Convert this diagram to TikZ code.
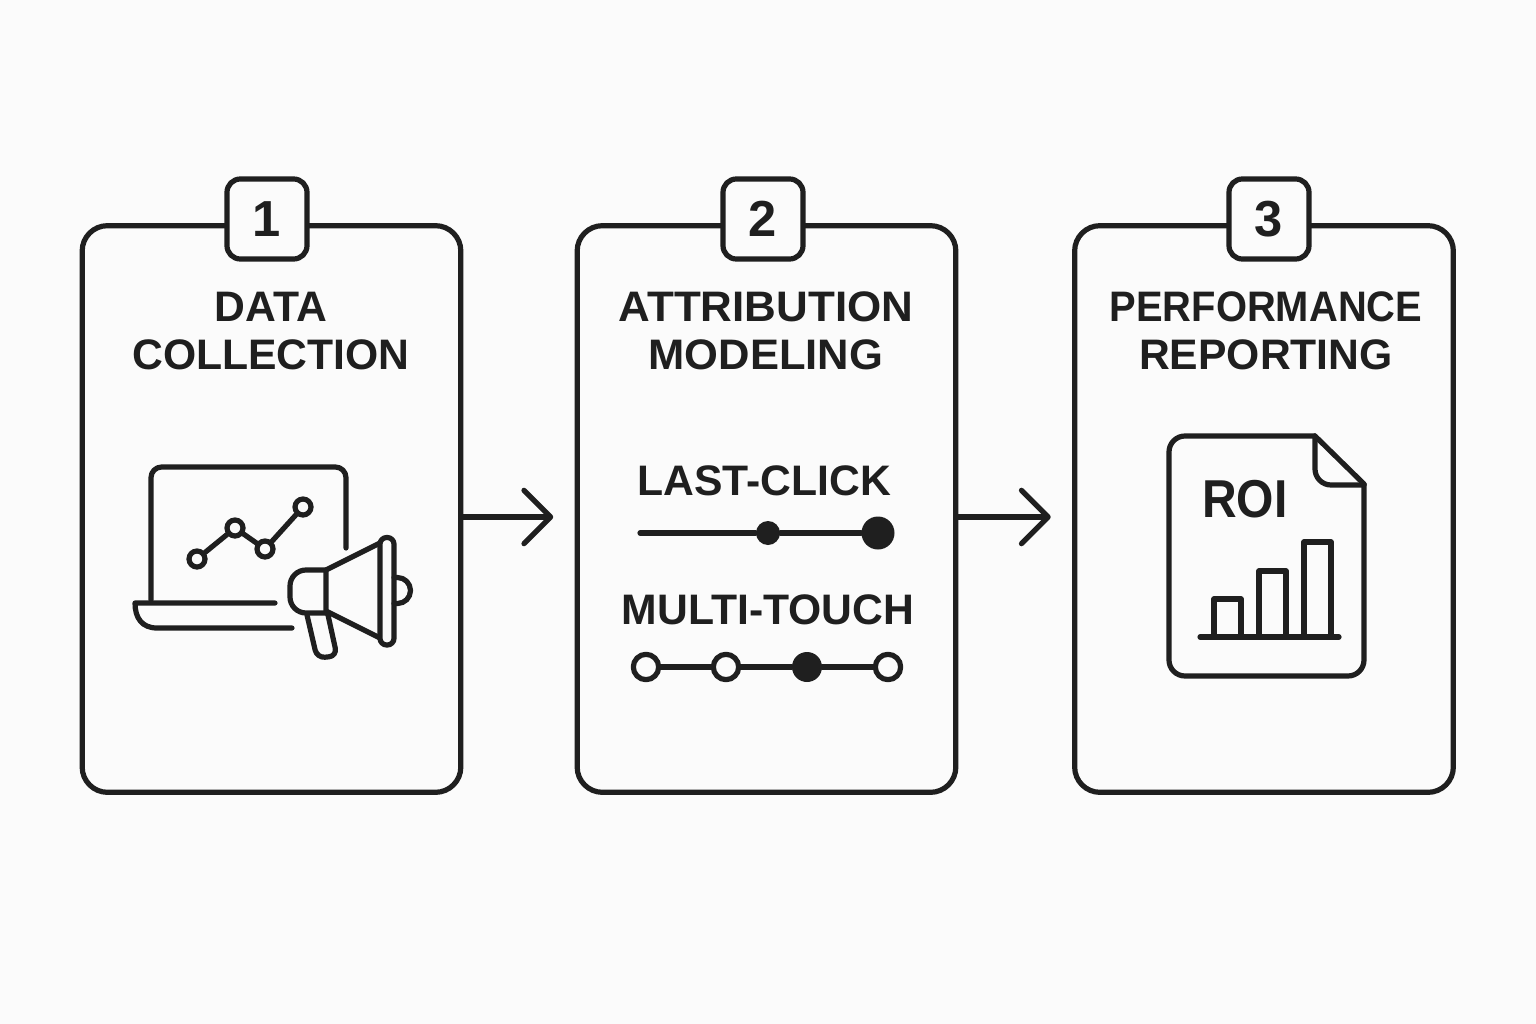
\documentclass[tikz,border=0pt]{standalone}
\usepackage{fontspec}
\setmainfont{Liberation Sans}
\usetikzlibrary{positioning, arrows.meta}
\definecolor{ink}{HTML}{1F1F1F}
\definecolor{paper}{HTML}{FBFBFB}
\tikzset{
	ln/.style={draw=ink, line width=3.9pt, line cap=round, line join=round},
	card/.style={ln, rounded corners=19pt, minimum width=284pt, minimum height=425pt},
	badge/.style={ln, fill=paper, rounded corners=10pt, minimum size=60pt, inner sep=0pt, text=ink, font=\bfseries\fontsize{38}{40}\selectfont},
	heading/.style={align=center, text=ink, inner sep=0pt, font=\bfseries\fontsize{32}{36}\selectfont},
	sublabel/.style={text=ink, inner sep=0pt, font=\bfseries\fontsize{32}{36}\selectfont},
	flow/.style={ln, -{Straight Barb[length=20pt, width=40pt, line width=3.9pt, round]}, shorten >=16pt},
	bigdot/.style={circle, fill=ink, inner sep=0pt, minimum size=#1},
	opendot/.style={circle, ln, fill=paper, inner sep=0pt, minimum size=19pt},
	marker/.style={circle, ln, fill=paper, inner sep=0pt, minimum size=12pt},
}
\begin{document}
\begin{tikzpicture}[x=0.75pt, y=-0.75pt]
	\useasboundingbox[fill=paper] (0,0) rectangle (1536,1024);
	\node[card] (card1) at (271.5,509) {};
	\node[card] (card2) at (766.5,509) {};
	\node[card] (card3) at (1264,509) {};
	\node[badge] (badge1) at (267,219) {\raisebox{-1.5pt}{1}};
	\node[badge] (badge2) at (763,219) {\raisebox{-1.5pt}{2}};
	\node[badge] (badge3) at (1269,219) {\raisebox{-1.5pt}{3}};
	\node[heading] (title1) at (271,331) {DATA\\COLLECTION};
	\node[heading] (title2) at (766,331) {\scalebox{1.03}[1]{ATTRIBUTION}\\\scalebox{1.02}[1]{MODELING}};
	\node[heading] (title3) at (1266,331) {\scalebox{0.935}[1]{PERFORMANCE}\\REPORTING};
	\draw[flow] ([yshift=-6pt]card1.east) -- ([yshift=-6pt]card2.west);
	\draw[flow] ([yshift=-6pt]card2.east) -- ([yshift=-6pt]card3.west);
	% laptop
	\draw[ln, rounded corners=8pt] (151,600) -- (151,467) -- (346,467) -- (346,548);
	\draw[ln] (275,603) -- (135,603) .. controls (135,618) and (142,628) .. (157,628) -- (292,628);
	\node[marker] (pt1) at (197,559) {};
	\node[marker] (pt2) at (235,528) {};
	\node[marker] (pt3) at (265,549) {};
	\node[marker] (pt4) at (303,507) {};
	\draw[ln] (pt1) -- (pt2) (pt2) -- (pt3) (pt3) -- (pt4);
	% megaphone
	\draw[ln, rounded corners=6pt] (307,615) -- (317,658) -- (337,656) -- (328,615);
	\draw[ln, rounded corners=12pt] (326,570) -- (290,570) -- (290,613) -- (326,613);
	\draw[ln] (326,570) -- (326,613) (326,570) -- (380,543) (326,611) -- (380,638);
	\draw[ln, fill=paper, rounded corners=5pt] (380,537.5) rectangle (394,645);
	\draw[ln] (394,577.5) -- (397.5,577.5) arc[start angle=-90, end angle=90, radius=13] -- (394,603.5);
	% report
	\draw[ln, rounded corners=12pt] (1315,436) -- (1169,436) -- (1169,676) -- (1364,676) -- (1364,484);
	\draw[ln] (1315,436) -- (1364,484);
	\draw[ln, rounded corners=12pt] (1315,436) -- (1315,485) -- (1364,485);
	\node[text=ink, inner sep=0pt, font=\bfseries\fontsize{40}{42}\selectfont] (roi) at (1245,499) {\scalebox{0.9}[1]{ROI}};
	\draw[ln] (1214,637) -- (1214,599) -- (1241,599) -- (1241,637);
	\draw[ln] (1259,637) -- (1259,571) -- (1286,571) -- (1286,637);
	\draw[ln] (1304,637) -- (1304,542) -- (1331,542) -- (1331,637);
	\draw[ln] (1200,637) -- (1339,637);
	% attribution lines
	\node[sublabel] (last) at (764,481) {LAST-CLICK};
	\node[sublabel] (multi) at (768,610) {MULTI-TOUCH};
	\coordinate (start) at (640,533);
	\node[bigdot=24pt*0.75] (d1) at (768,533) {};
	\node[bigdot=33pt*0.75] (d2) at (878,533) {};
	\draw[ln] (start) -- (d1) (d1) -- (d2);
	\node[opendot] (m1) at (646,667) {};
	\node[opendot] (m2) at (726,667) {};
	\node[bigdot=30pt*0.75] (m3) at (807,667) {};
	\node[opendot] (m4) at (888,667) {};
	\draw[ln] (m1) -- (m2) (m2) -- (m3) (m3) -- (m4);
\end{tikzpicture}
\end{document}
